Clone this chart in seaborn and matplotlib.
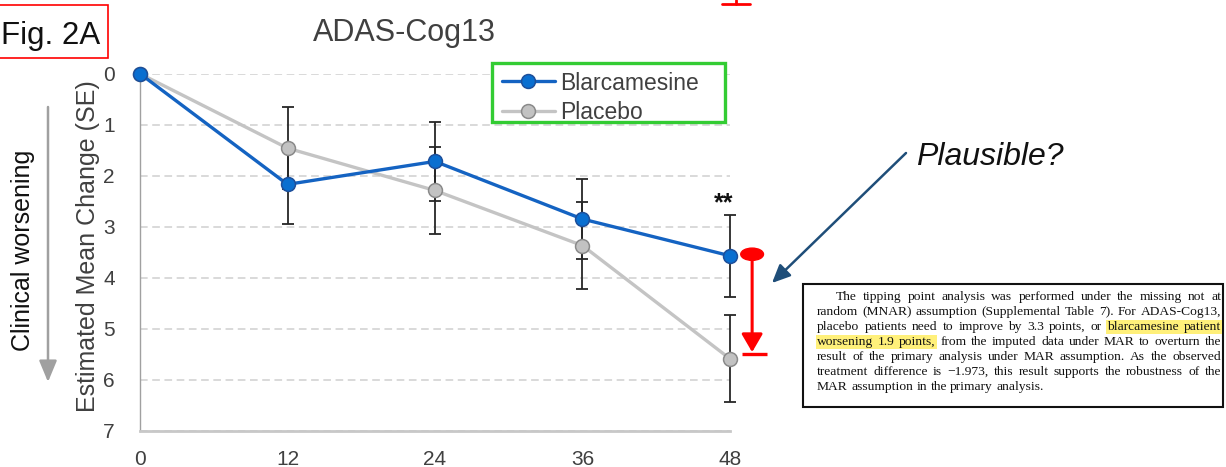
import matplotlib
matplotlib.use("Agg")
import matplotlib.pyplot as plt
import seaborn as sns
import pandas as pd
from matplotlib.patches import Rectangle, Ellipse, FancyArrowPatch
from matplotlib.lines import Line2D

# ---------------- data ----------------
weeks = [0, 12, 24, 36, 48]
blar_mean = [0, 2.17, 1.72, 2.85, 3.57]
blar_se = [0, 0.78, 0.77, 0.79, 0.80]
placebo_mean = [0, 1.46, 2.29, 3.37, 5.59]
placebo_se = [0, 0.80, 0.85, 0.85, 0.85]
series_names = ["Blarcamesine", "Placebo"]
x_ticks = [0, 12, 24, 36, 48]
y_ticks = [0, 1, 2, 3, 4, 5, 6, 7]
tipping_bottom = 5.5

box_lines = [
    "The tipping point analysis was performed under the missing not at",
    "random (MNAR) assumption (Supplemental Table 7). For ADAS-Cog13,",
    "placebo patients need to improve by 3.3 points, or blarcamesine patient",
    "worsening 1.9 points, from the imputed data under MAR to overturn the",
    "result of the primary analysis under MAR assumption. As the observed",
    "treatment difference is \u22121.973, this result supports the robustness of the",
    "MAR assumption in the primary analysis.",
]
# (line index, first word, last word) highlighted
highlights = [(2, 9, 10), (3, 0, 2)]

# ---------------- style ----------------
sns.set_style("white")
plt.rcParams["font.family"] = ["Liberation Sans", "DejaVu Sans"]

W, H = 1226, 467
fig = plt.figure(figsize=(W / 100, H / 100), dpi=100)
fig.patch.set_facecolor("white")


def fx(px):
    return px / W


def fy(py):
    return 1 - py / H


ax_l, ax_r, ax_t, ax_b = 140, 730, 73.7, 430.7
ax = fig.add_axes([fx(ax_l), fy(ax_b), fx(ax_r) - fx(ax_l), (ax_b - ax_t) / H])

blue, blue_fill, blue_edge = "#1463c2", "#0a6fd0", "#1d4f9a"
gray, gray_fill, gray_edge = "#c4c4c4", "#c2c2c2", "#8a8a8a"
msize = 10

df_b = pd.DataFrame({"week": weeks, "change": blar_mean})
df_p = pd.DataFrame({"week": weeks, "change": placebo_mean})

# error bars (only after baseline)
for m, se in [(placebo_mean, placebo_se), (blar_mean, blar_se)]:
    xs = [w for w, s in zip(weeks, se) if s > 0]
    ys = [v for v, s in zip(m, se) if s > 0]
    es = [s for s in se if s > 0]
    ax.errorbar(xs, ys, yerr=es, fmt="none", ecolor="#262626", elinewidth=1.3,
                capsize=4, capthick=1.3, zorder=2, clip_on=False)

sns.lineplot(data=df_p, x="week", y="change", ax=ax, color=gray, lw=2.4,
             marker="o", markersize=msize, markerfacecolor=gray_fill,
             markeredgecolor=gray_edge, markeredgewidth=1.1, errorbar=None,
             zorder=3, legend=False)
sns.lineplot(data=df_b, x="week", y="change", ax=ax, color=blue, lw=2.4,
             marker="o", markersize=msize, markerfacecolor=blue_fill,
             markeredgecolor=blue_edge, markeredgewidth=1.1, errorbar=None,
             zorder=4, legend=False)
for ln in ax.lines:
    ln.set_clip_on(False)

ax.set_xlim(0, 48)
ax.set_ylim(7, 0)
ax.set_xticks(x_ticks)
ax.set_yticks(y_ticks)
ax.set_xlabel("")
ax.set_ylabel("Estimated Mean Change (SE)", fontsize=18, color="#404040", va="center")
ax.yaxis.set_label_coords((88 - ax_l) / (ax_r - ax_l), (ax_b - 246) / (ax_b - ax_t))
ax.tick_params(axis="both", length=0, labelsize=15, colors="#404040")
ax.tick_params(axis="x", pad=14)
ax.tick_params(axis="y", pad=18)
ax.grid(axis="y", color="#d0d0d0", lw=1.1, ls=(0, (5, 3)))
ax.grid(axis="x", visible=False)
ax.set_axisbelow(True)
for s in ["top", "right"]:
    ax.spines[s].set_visible(False)
ax.spines["left"].set_color("#a0a0a0")
ax.spines["left"].set_linewidth(1.0)
ax.spines["bottom"].set_color("#c8c8c8")
ax.spines["bottom"].set_linewidth(2.0)

# significance
ax.text(47.5, 2.68, "**", ha="center", va="baseline", fontsize=18,
        fontweight="bold", color="#111111")

# red tipping arrow (data coords)
rx = 49.8
ax.add_patch(Ellipse((rx, blar_mean[-1] - 0.03), 1.85, 0.24, color="#ff0000",
                     clip_on=False, zorder=5))
ax.annotate("", xy=(rx, tipping_bottom - 0.04), xytext=(rx, blar_mean[-1]),
            arrowprops=dict(arrowstyle="-|>,head_length=0.55,head_width=0.32",
                            color="#ff0000", lw=2.2, shrinkA=0, shrinkB=0,
                            mutation_scale=20), annotation_clip=False, zorder=5)
ax.plot([rx - 0.85, rx + 1.25], [tipping_bottom, tipping_bottom], color="#ff0000",
        lw=2.4, clip_on=False, solid_capstyle="butt", zorder=5)

# legend (frame drawn as a green box)
fig.patches.append(Rectangle((fx(492), fy(121.7)), fx(725) - fx(492),
                             (121.7 - 63.3) / H, transform=fig.transFigure,
                             facecolor="white", edgecolor="#33cc33", lw=2.4,
                             zorder=1))
handles = [
    Line2D([], [], color=blue, lw=2.4, marker="o", markersize=msize,
           markerfacecolor=blue_fill, markeredgecolor=blue_edge, markeredgewidth=1.1),
    Line2D([], [], color=gray, lw=2.4, marker="o", markersize=msize,
           markerfacecolor=gray_fill, markeredgecolor=gray_edge, markeredgewidth=1.1),
]
leg = fig.legend(handles, series_names, loc="upper left",
                 bbox_to_anchor=(fx(502), fy(71.5)), bbox_transform=fig.transFigure,
                 frameon=False, borderaxespad=0, fontsize=16.5, handlelength=2.3,
                 handletextpad=0.22, labelspacing=0.27, borderpad=0)
leg.set_zorder(3)
for t in leg.get_texts():
    t.set_color("#404040")

# titles / labels
fig.text(fx(404), fy(41), "ADAS-Cog13", ha="center", va="baseline", fontsize=22,
         color="#404040")
fig.text(fx(1), fy(44), "Fig. 2A", ha="left", va="baseline", fontsize=22.5,
         color="#111111")
fig.patches.append(Rectangle((fx(-1), fy(58)), fx(109), (58 - 5) / H,
                             transform=fig.transFigure, fill=False,
                             edgecolor="#ff0000", lw=1.2))
fig.text(fx(23), fy(250.5), "Clinical worsening", rotation=90, ha="center",
         va="center", fontsize=18, color="#111111")
fig.add_artist(FancyArrowPatch(
    (fx(48), fy(107)), (fx(48), fy(382)), transform=fig.transFigure,
    arrowstyle="-|>,head_length=0.65,head_width=0.27", mutation_scale=20,
    color="#a0a0a0", lw=1.8, shrinkA=0, shrinkB=0))

# Plausible?
fig.text(fx(916), fy(165), "Plausible?", ha="left", va="baseline", fontsize=23,
         style="italic", color="#111111")
fig.add_artist(FancyArrowPatch(
    (fx(906), fy(153)), (fx(772), fy(283)), transform=fig.transFigure,
    arrowstyle="-|>,head_length=0.55,head_width=0.25", mutation_scale=20,
    color="#1f4e79", lw=1.8, shrinkA=0, shrinkB=0))

# cut-off red arrow at top
fig.add_artist(Line2D([fx(722), fx(750)], [fy(4), fy(4)], transform=fig.transFigure,
                      color="#ff0000", lw=2.0))
fig.add_artist(Line2D([fx(736), fx(736)], [fy(0), fy(4)], transform=fig.transFigure,
                      color="#ff0000", lw=2.0))

# ---------------- quoted text box ----------------
box_x0, box_y0, box_x1, box_y1 = 803, 284, 1223, 407
fig.patches.append(Rectangle((fx(box_x0), fy(box_y1)), fx(box_x1) - fx(box_x0),
                             (box_y1 - box_y0) / H, transform=fig.transFigure,
                             facecolor="white", edgecolor="#111111", lw=1.5,
                             zorder=1))
serif = ["Liberation Serif", "DejaVu Serif"]
fig.canvas.draw()
rend = fig.canvas.get_renderer()


def text_w(s, fs):
    t = fig.text(0, 0, s, fontsize=fs, family=serif)
    w = t.get_window_extent(rend).width
    t.remove()
    return w


left_px, right_px, indent_px = 817, 1221, 836
base0, step = 300, 15
fs = 10.5
for _ in range(3):
    worst = 0
    for i, line in enumerate(box_lines[:-1]):
        avail = right_px - (indent_px if i == 0 else left_px)
        worst = max(worst, text_w(line, fs) / avail)
    fs = fs / worst * 0.985

sp = text_w("a b", fs) - text_w("ab", fs)
for i, line in enumerate(box_lines):
    words = line.split(" ")
    widths = [text_w(w_, fs) for w_ in words]
    start = indent_px if i == 0 else left_px
    if i < len(box_lines) - 1 and len(words) > 1:
        gap = (right_px - start - sum(widths)) / (len(words) - 1)
    else:
        gap = sp
    xs = []
    x = start
    for wd in widths:
        xs.append(x)
        x += wd + gap
    bl = base0 + step * i
    for (li, a, b) in highlights:
        if li == i:
            x0 = xs[a] - 1
            x1 = xs[b] + widths[b] + 1
            fig.patches.append(Rectangle((fx(x0), fy(bl + 4)), fx(x1) - fx(x0),
                                         14 / H, transform=fig.transFigure,
                                         facecolor="#fff07a", edgecolor="none",
                                         zorder=2))
    for wtxt, xx in zip(words, xs):
        fig.text(fx(xx), fy(bl), wtxt, fontsize=fs, family=serif, ha="left",
                 va="baseline", color="#111111", zorder=3)

fig.savefig("out.png", dpi=100, facecolor="white")
